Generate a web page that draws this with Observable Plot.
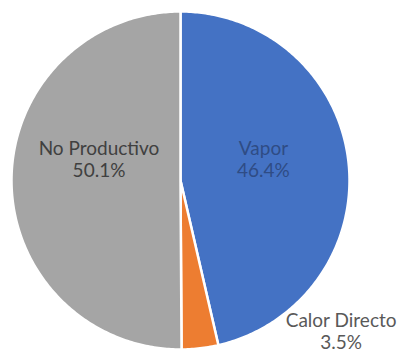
<!DOCTYPE html>
<html><head><meta charset="utf-8">
<script src="https://cdn.jsdelivr.net/npm/d3@7"></script>
<script src="https://cdn.jsdelivr.net/npm/@observablehq/plot@0.6"></script>
<style>html,body{margin:0;padding:0;background:#fff}</style>
</head><body><div id="chart"></div>
<script>
const categories = ["Vapor", "Calor Directo", "No Productivo"];
const shares = [46.4, 3.5, 50.1];
const shareLabels = ["46.4%", "3.5%", "50.1%"];
const colors = ["#4472C4", "#ED7D31", "#A5A5A5"];
const labelColors = ["#2f4c85", "#595959", "#404040"];

const W = 403, H = 356, cx = 180, cy = 180, R = 169;

const arcs = d3.pie().sort(null).value(d => d.value)(
  categories.map((c, i) => ({category: c, value: shares[i], label: shareLabels[i]}))
);

const pts = [];
arcs.forEach(a => {
  const c = a.data.category;
  pts.push({category: c, x: 0, y: 0});
  const n = Math.max(6, Math.ceil((a.endAngle - a.startAngle) * 80));
  for (let i = 0; i <= n; i++) {
    const t = a.startAngle + (a.endAngle - a.startAngle) * i / n;
    pts.push({category: c, x: Math.sin(t), y: Math.cos(t)});
  }
  pts.push({category: c, x: 0, y: 0});
});

// label placement (layout, not data)
const place = {
  "Vapor": {r: 0.5, dx: -1, dy: -12},
  "Calor Directo": {r: 1.0, dx: 141, dy: -17},
  "No Productivo": {r: 0.5, dx: 3, dy: -22}
};
const labelData = arcs.map((a, i) => {
  const m = (a.startAngle + a.endAngle) / 2;
  const p = place[a.data.category];
  return {
    category: a.data.category,
    text: a.data.category + "\n" + a.data.label,
    x: p.r * Math.sin(m) + p.dx / R,
    y: p.r * Math.cos(m) - p.dy / R,
    color: labelColors[i]
  };
});

const chart = Plot.plot({
  width: W, height: H,
  margin: 0,
  x: {domain: [-1, 1], range: [cx - R, cx + R], axis: null},
  y: {domain: [-1, 1], range: [cy + R, cy - R], axis: null},
  color: {domain: categories, range: colors},
  style: {fontFamily: "Lato, 'Open Sans', sans-serif", background: "#fff"},
  marks: [
    Plot.line(pts, {x: "x", y: "y", z: "category", fill: "category", stroke: "#fff", strokeWidth: 2.5, curve: "linear", strokeLinejoin: "round"}),
    Plot.text(labelData, {x: "x", y: "y", text: "text", fill: d => d.color, fontSize: 19, lineHeight: 1.15})
  ]
});
document.getElementById("chart").appendChild(chart);
</script>
</body></html>
